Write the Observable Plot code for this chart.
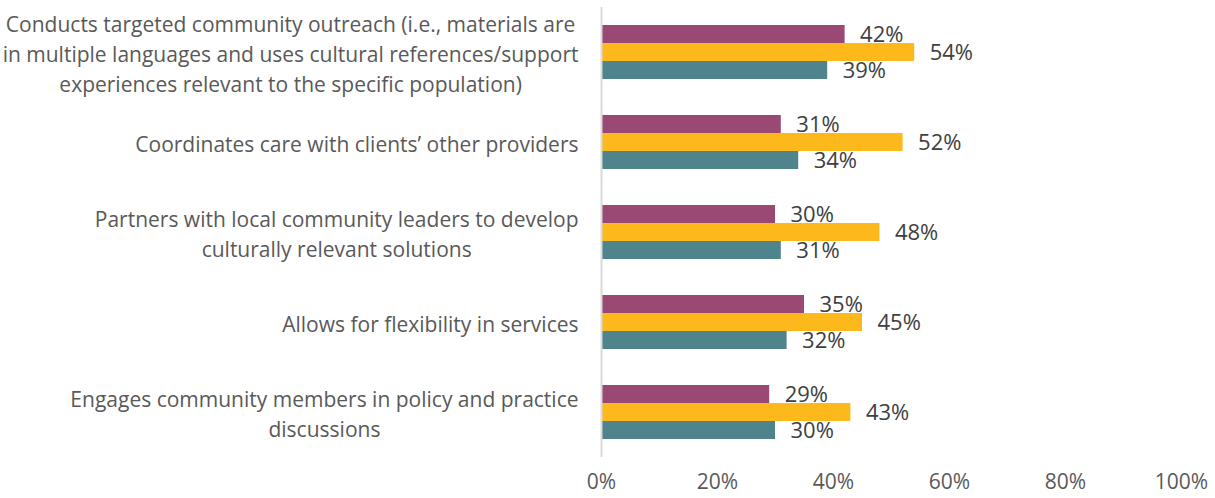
<!DOCTYPE html>
<html>
<head>
<meta charset="utf-8">
<script src="https://cdn.jsdelivr.net/npm/d3@7"></script>
<script src="https://cdn.jsdelivr.net/npm/@observablehq/plot@0.6"></script>
<style>
  html, body { margin: 0; padding: 0; background: #fff; }
  #chart { width: 1215px; height: 498px; }
</style>
</head>
<body>
<div id="chart"></div>
<script>
const categories = [
  "Conducts targeted community outreach",
  "Coordinates care with clients’ other providers",
  "Partners with local community leaders",
  "Allows for flexibility in services",
  "Engages community members"
];
const labelLines = [
  ["Conducts targeted community outreach (i.e., materials are",
   "in multiple languages and uses cultural references/support",
   "experiences relevant to the specific population)"],
  ["Coordinates care with clients’ other providers"],
  ["Partners with local community leaders to develop",
   "culturally relevant solutions"],
  ["Allows for flexibility in services"],
  ["Engages community members in policy and practice",
   "discussions"]
];
const seriesNames = ["Series 1", "Series 2", "Series 3"];
const series1Values = [42, 31, 30, 35, 29];
const series2Values = [54, 52, 48, 45, 43];
const series3Values = [39, 34, 31, 32, 30];
const xTicks = [0, 20, 40, 60, 80, 100];
const seriesColors = ["#9A4874", "#FDB81C", "#4F848C"];

const allValues = [series1Values, series2Values, series3Values];
const data = [];
categories.forEach((c, i) => {
  seriesNames.forEach((s, j) => {
    data.push({category: c, series: s, value: allValues[j][i]});
  });
});

const FONT = "Open Sans";
const FS = 21;
const canvas = document.createElement("canvas");
const ctx = canvas.getContext("2d");
ctx.font = `${FS}px "${FONT}"`;
const labelGap = 23;

const labelMarks = categories.map((c, i) => {
  const maxW = d3.max(labelLines[i], l => ctx.measureText(l).width);
  return Plot.text([c], {
    fy: d => d,
    frameAnchor: "left",
    text: () => labelLines[i].join("\n"),
    textAnchor: "middle",
    dx: -(labelGap + maxW / 2),
    lineHeight: 1.43,
    fontSize: FS,
    fill: "#595959"
  });
});

const chart = Plot.plot({
  width: 1215,
  height: 498,
  marginLeft: 601,
  marginRight: 34,
  marginTop: 7,
  marginBottom: 41,
  style: {fontFamily: `"${FONT}"`, fontSize: FS + "px", background: "#fff"},
  x: {domain: [0, 100], axis: null, label: null},
  fy: {domain: categories, padding: 0, axis: null},
  y: {domain: seriesNames, paddingInner: 0, paddingOuter: 0.95, axis: null},
  color: {domain: seriesNames, range: seriesColors},
  marks: [
    Plot.barX(data, {x: "value", y: "series", fy: "category", fill: "series"}),
    Plot.text(data, {
      x: "value", y: "series", fy: "category",
      text: d => d.value + "%",
      textAnchor: "start", dx: 15,
      fontSize: 22, fill: "#404040"
    }),
    Plot.ruleX([0], {stroke: "#D9D9D9", strokeWidth: 2}),
    Plot.axisX({
      ticks: xTicks, tickSize: 0, tickPadding: 17, label: null,
      tickFormat: d => d + "%", fontSize: FS, fill: "#595959"
    }),
    ...labelMarks
  ]
});
document.getElementById("chart").appendChild(chart);
</script>
</body>
</html>
